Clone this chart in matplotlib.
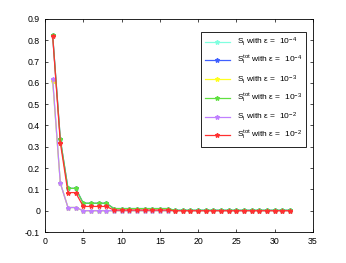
import matplotlib
matplotlib.use("Agg")
import matplotlib.pyplot as plt
import numpy as np

plt.rcParams['font.family'] = ['Liberation Sans', 'DejaVu Sans']
plt.rcParams['mathtext.fontset'] = 'custom'
plt.rcParams['mathtext.rm'] = 'Liberation Sans'
plt.rcParams['mathtext.it'] = 'Liberation Sans'

idx = np.arange(1, 33)

# first-order and total indices for each epsilon
si_4 = [0.61, 0.13, 0.015, 0.015] + [0.0] * 28
sitot_4 = [0.825, 0.335, 0.105, 0.105] + [0.035] * 4 + [0.01] * 8 + [0.002] * 16
si_3 = [0.61, 0.13, 0.015, 0.015] + [0.0] * 28
sitot_3 = [0.825, 0.335, 0.105, 0.105] + [0.035] * 4 + [0.01] * 8 + [0.002] * 16
si_2 = [0.62, 0.13, 0.015, 0.015] + [0.0] * 28
sitot_2 = [0.82, 0.32, 0.085, 0.085] + [0.02] * 4 + [0.003] * 8 + [0.0] * 16

series = [
    (si_4, '#80ffe0', r'S$_{\rm i}$ with $\epsilon$ =  10$^{-4}$'),
    (sitot_4, '#4060ff', r'S$_{\rm i}^{\rm tot}$ with $\epsilon$ =  10$^{-4}$'),
    (si_3, '#ffff20', r'S$_{\rm i}$ with $\epsilon$ =  10$^{-3}$'),
    (sitot_3, '#60e040', r'S$_{\rm i}^{\rm tot}$ with $\epsilon$ =  10$^{-3}$'),
    (si_2, '#c080ff', r'S$_{\rm i}$ with $\epsilon$ =  10$^{-2}$'),
    (sitot_2, '#ff3030', r'S$_{\rm i}^{\rm tot}$ with $\epsilon$ =  10$^{-2}$'),
]

fig = plt.figure(figsize=(3.46, 2.63), dpi=100)
ax = fig.add_axes([45 / 346, 31 / 263, 268 / 346, 213 / 263])

for vals, col, lab in series:
    ax.plot(idx, vals, color=col, marker='*', markersize=3.2, linewidth=0.9, label=lab)

ax.set_xlim(0, 35)
ax.set_ylim(-0.1, 0.9)
ax.set_xticks(np.arange(0, 36, 5))
ax.set_yticks(np.round(np.arange(-0.1, 0.91, 0.1), 1))
ax.set_yticklabels(['-0.1', '0', '0.1', '0.2', '0.3', '0.4', '0.5', '0.6', '0.7', '0.8', '0.9'])
ax.tick_params(labelsize=6.3, direction='in', length=2.5, width=0.5, top=True, right=True)
for s in ax.spines.values():
    s.set_linewidth(0.6)

leg = ax.legend(loc='upper right', fontsize=6, fancybox=False, framealpha=1,
                edgecolor='black', borderpad=0.5, labelspacing=0.7, handlelength=3,
                bbox_to_anchor=(0.99, 0.96))
leg.get_frame().set_linewidth(0.6)

fig.savefig('out.png', dpi=100)
